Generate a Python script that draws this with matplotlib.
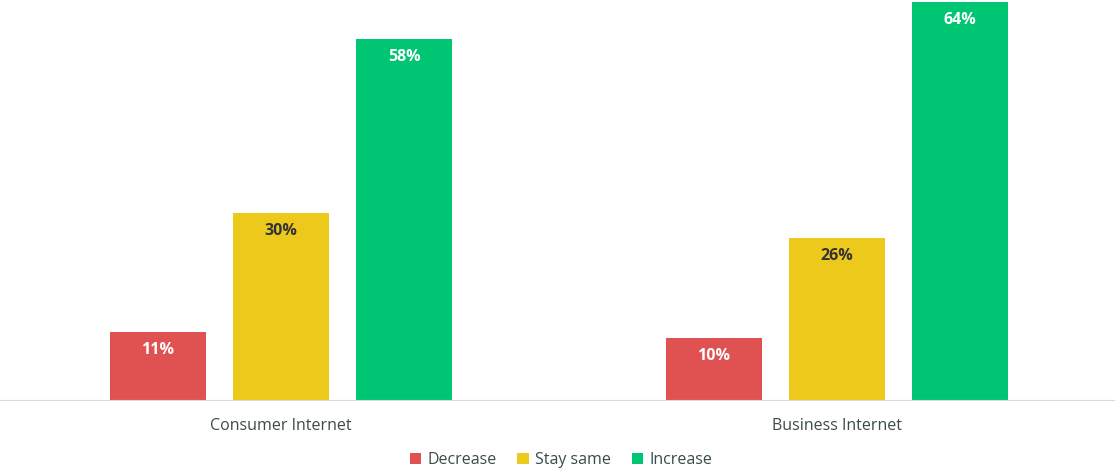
import numpy as np
import matplotlib.pyplot as plt

categories = ['Consumer Internet', 'Business Internet']
series = ['Decrease', 'Stay same', 'Increase']
decrease = [11, 10]
stay_same = [30, 26]
increase = [58, 64]

colors = ['#E05252', '#EDC91C', '#00C573']
label_colors = ['white', '#333333', 'white']
text_color = '#3B4A4A'

plt.rcParams['font.family'] = ['Open Sans', 'DejaVu Sans']

fig = plt.figure(figsize=(11.15, 4.7), dpi=100)
ax = fig.add_axes([0, 70 / 470, 1, 400 / 470])

x = np.arange(len(categories))
pitch = 123 / 556
width = 96 / 556

for i, (name, vals) in enumerate(zip(series, [decrease, stay_same, increase])):
    pos = x + (i - 1) * pitch
    bars = ax.bar(pos, vals, width=width, color=colors[i], label=name)
    for b, v in zip(bars, vals):
        ax.annotate(f'{v}%', (b.get_x() + b.get_width() / 2, v),
                    xytext=(0, -18), textcoords='offset pixels',
                    ha='center', va='center', fontsize=11.5,
                    fontweight='bold', color=label_colors[i])

ax.set_xlim(-281 / 556, (1115 - 281) / 556)
ax.set_ylim(0, 64 * 400 / 398)
ax.set_xticks(x)
ax.set_xticklabels(categories, fontsize=11.5, color=text_color)
ax.tick_params(axis='x', length=0, pad=13)
ax.set_yticks([])
for s in ['top', 'left', 'right']:
    ax.spines[s].set_visible(False)
ax.spines['bottom'].set_color('#D9D9D9')

leg = fig.legend(loc='center', bbox_to_anchor=(561 / 1115, 1 - 460 / 470),
                 ncol=3, frameon=False, fontsize=11.5, handlelength=0.7,
                 handleheight=0.7, handletextpad=0.4, columnspacing=1.3)
for t in leg.get_texts():
    t.set_color(text_color)

fig.savefig('out.png', dpi=100)
